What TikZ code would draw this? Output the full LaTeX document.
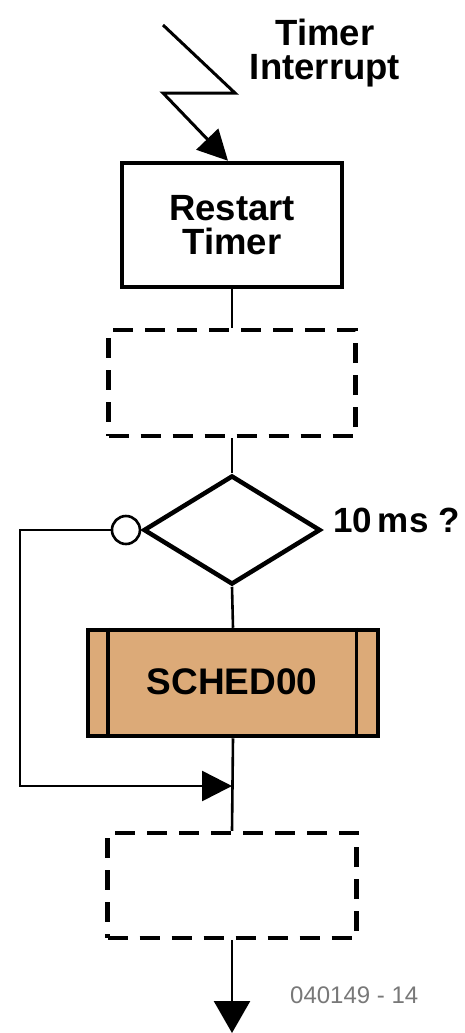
\documentclass[tikz,border=0pt]{standalone}
\usepackage{fontspec}
\setmainfont{Liberation Sans}
\usetikzlibrary{shapes.geometric,arrows.meta}
\definecolor{schedfill}{RGB}{220,170,120}
\definecolor{codegray}{RGB}{120,120,120}
\tikzset{
  lbl/.style={font=\fontsize{36.5}{34}\selectfont\bfseries, inner sep=0pt},
  solidbox/.style={draw, line width=4.5pt, inner sep=0pt},
  dashbox/.style={draw, line width=4.5pt, dash pattern=on 20pt off 12pt, inner sep=0pt},
  conn/.style={line width=2.6pt},
  bigtip/.style={-{Triangle[length=30pt,width=30pt]}},
}
\begin{document}
\begin{tikzpicture}[x=1pt,y=-1pt]
\useasboundingbox (0,0) rectangle (464,1033);
% title text
\node[lbl, align=center] (ti) at (325,53) {Timer\\Interrupt};
% lightning
\coordinate (l1) at (163,25);
\coordinate (l2) at (235,93);
\coordinate (l3) at (163,93);
% restart box
\node[solidbox, minimum width=220pt, minimum height=124pt, lbl, align=center] (rt) at (232,225) {Restart\\Timer};
\draw[line width=3pt, bigtip] (l1) -- (l2) -- (l3) -- ([xshift=-4pt]rt.north);
% dashed box 1
\node[dashbox, minimum width=247pt, minimum height=106pt] (d1) at (232,383) {};
% diamond
\node[draw, line width=4.5pt, diamond, aspect=1.62, minimum width=177pt, minimum height=109pt, inner sep=0pt] (dm) at (232,530) {};
\node[lbl, font=\fontsize{35}{34}\selectfont\bfseries, anchor=base west] (ten) at (333,532) {10\,ms ?};
% circle
\node[draw, line width=2.6pt, circle, minimum size=28pt, inner sep=0pt, anchor=east] (c) at (dm.west) {};
% sched box
\node[solidbox, fill=schedfill, minimum width=290pt, minimum height=106pt] (s) at (233,683) {};
\node[lbl, font=\fontsize{37}{34}\selectfont\bfseries, anchor=base] (st) at (232,694) {SCHED00};
\draw[line width=3.5pt] ([xshift=22pt]s.north west) -- ([xshift=22pt]s.south west);
\draw[line width=3.5pt] ([xshift=-24pt]s.north east) -- ([xshift=-24pt]s.south east);
% dashed box 2
\node[dashbox, minimum width=249pt, minimum height=105pt] (d2) at (232,885.5) {};
% end
\coordinate (e) at (232,1033);
\coordinate (j) at (232,786);
\coordinate (lt) at (20,530);
\coordinate (lb) at (20,786);
% connectors
\draw[conn] (rt.south) -- (d1.north);
\draw[conn] (d1.south) -- (dm.north);
\draw[conn] (dm.south) -- (s.north);
\draw[conn] (s.south) -- (d2.north);
\draw[conn, bigtip] (c.west) -- (lt) -- (lb) -- (j);
\draw[conn, -{Triangle[length=32pt,width=36pt]}] (d2.south) -- (e);
% code
\node[font=\fontsize{24}{24}\selectfont, text=codegray, anchor=base west, inner sep=0pt] (code) at (290,1003) {040149 - 14};
\end{tikzpicture}
\end{document}
